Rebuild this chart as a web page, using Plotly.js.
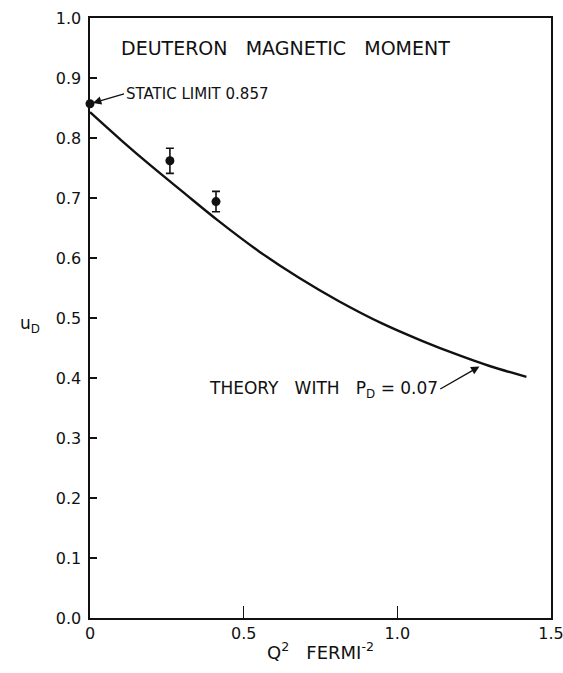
<!DOCTYPE html>
<html>
<head>
<meta charset="utf-8">
<script src="https://cdn.plot.ly/plotly-3.0.1.min.js"></script>
<style>html,body{margin:0;padding:0;background:#fff;}#chart{width:563px;height:673px;}</style>
</head>
<body>
<div id="chart"></div>
<script>
// Theory curve (P_D = 0.07)
const theoryQ2 = [0, 0.1, 0.2, 0.3, 0.42, 0.55, 0.68, 0.81, 0.95, 1.08, 1.2, 1.3, 1.42];
const theoryMu = [0.843, 0.797, 0.753, 0.711, 0.661, 0.611, 0.567, 0.528, 0.491, 0.462, 0.438, 0.420, 0.402];
// Measured points
const dataQ2 = [0.26, 0.41];
const dataMu = [0.762, 0.694];
const dataErr = [0.021, 0.017];
// Static limit
const staticQ2 = [0];
const staticMu = [0.857];
// Tick labels
const xTickVals = [0, 0.5, 1.0, 1.5];
const xTickText = ["0", "0.5", "1.0", "1.5"];
const yTickVals = [0, 0.1, 0.2, 0.3, 0.4, 0.5, 0.6, 0.7, 0.8, 0.9, 1.0];
const yTickText = ["0.0", "0.1", "0.2", "0.3", "0.4", "0.5", "0.6", "0.7", "0.8", "0.9", "1.0"];

const ink = "#111";
const fam = "DejaVu Sans, sans-serif";
const font = {family: fam, size: 16, color: ink};
const sp = "\u00A0";

const traces = [
  {x: theoryQ2, y: theoryMu, mode: "lines", line: {color: ink, width: 2.4, shape: "spline", smoothing: 1.0}, hoverinfo: "skip"},
  {x: dataQ2, y: dataMu, mode: "markers", marker: {color: ink, size: 9},
   error_y: {type: "data", array: dataErr, visible: true, color: ink, thickness: 1.6, width: 4}},
  {x: staticQ2, y: staticMu, mode: "markers", marker: {color: ink, size: 9}, cliponaxis: false}
];

const layout = {
  width: 563, height: 673,
  margin: {l: 90, r: 12, t: 18, b: 55},
  paper_bgcolor: "#fff", plot_bgcolor: "#fff",
  showlegend: false,
  font: font,
  xaxis: {
    range: [0, 1.5], tickvals: xTickVals, ticktext: xTickText,
    ticks: "inside", ticklen: 12, tickwidth: 1.5, tickcolor: ink,
    showline: true, linecolor: ink, linewidth: 1.6, mirror: true,
    showgrid: false, zeroline: false, tickfont: font, ticklabeloverflow: "allow",
    title: {text: "Q<sup>2</sup>" + sp + sp + sp + "FERMI<sup>-2</sup>", font: {family: fam, size: 18, color: ink}, standoff: 4}
  },
  yaxis: {
    range: [0, 1.0], tickvals: yTickVals, ticktext: yTickText,
    ticks: "inside", ticklen: 7, tickwidth: 1.5, tickcolor: ink,
    showline: true, linecolor: ink, linewidth: 1.6, mirror: true,
    showgrid: false, zeroline: false, tickfont: font, ticklabelstandoff: 4
  },
  annotations: [
    {xref: "paper", yref: "paper", x: 0.425, y: 0.95, xanchor: "center", yanchor: "middle",
     text: "DEUTERON" + sp + sp + sp + "MAGNETIC" + sp + sp + sp + "MOMENT", showarrow: false,
     font: {family: fam, size: 19, color: ink}},
    {xref: "x", yref: "y", x: 0, y: 0.857, ax: 34, ay: -10, xanchor: "left", yanchor: "middle",
     text: "STATIC LIMIT 0.857", showarrow: true, arrowhead: 2, arrowsize: 1.2,
     arrowwidth: 1.4, arrowcolor: ink, standoff: 3, font: {family: fam, size: 15, color: ink}},
    {xref: "x", yref: "y", x: 1.27, y: 0.42, ax: -40, ay: 23, xanchor: "right", yanchor: "middle",
     text: "THEORY" + sp + sp + sp + "WITH" + sp + sp + sp + "P<sub>D</sub>" + sp + "=" + sp + "0.07", showarrow: true, arrowhead: 2,
     arrowsize: 1.2, arrowwidth: 1.4, arrowcolor: ink, standoff: 1, font: {family: fam, size: 17, color: ink}},
    {xref: "paper", yref: "y", x: -0.13, y: 0.49, xanchor: "center", yanchor: "middle",
     text: "u<sub>D</sub>", showarrow: false, font: {family: fam, size: 17, color: ink}}
  ]
};

Plotly.newPlot("chart", traces, layout, {displayModeBar: false, staticPlot: true});
</script>
</body>
</html>
